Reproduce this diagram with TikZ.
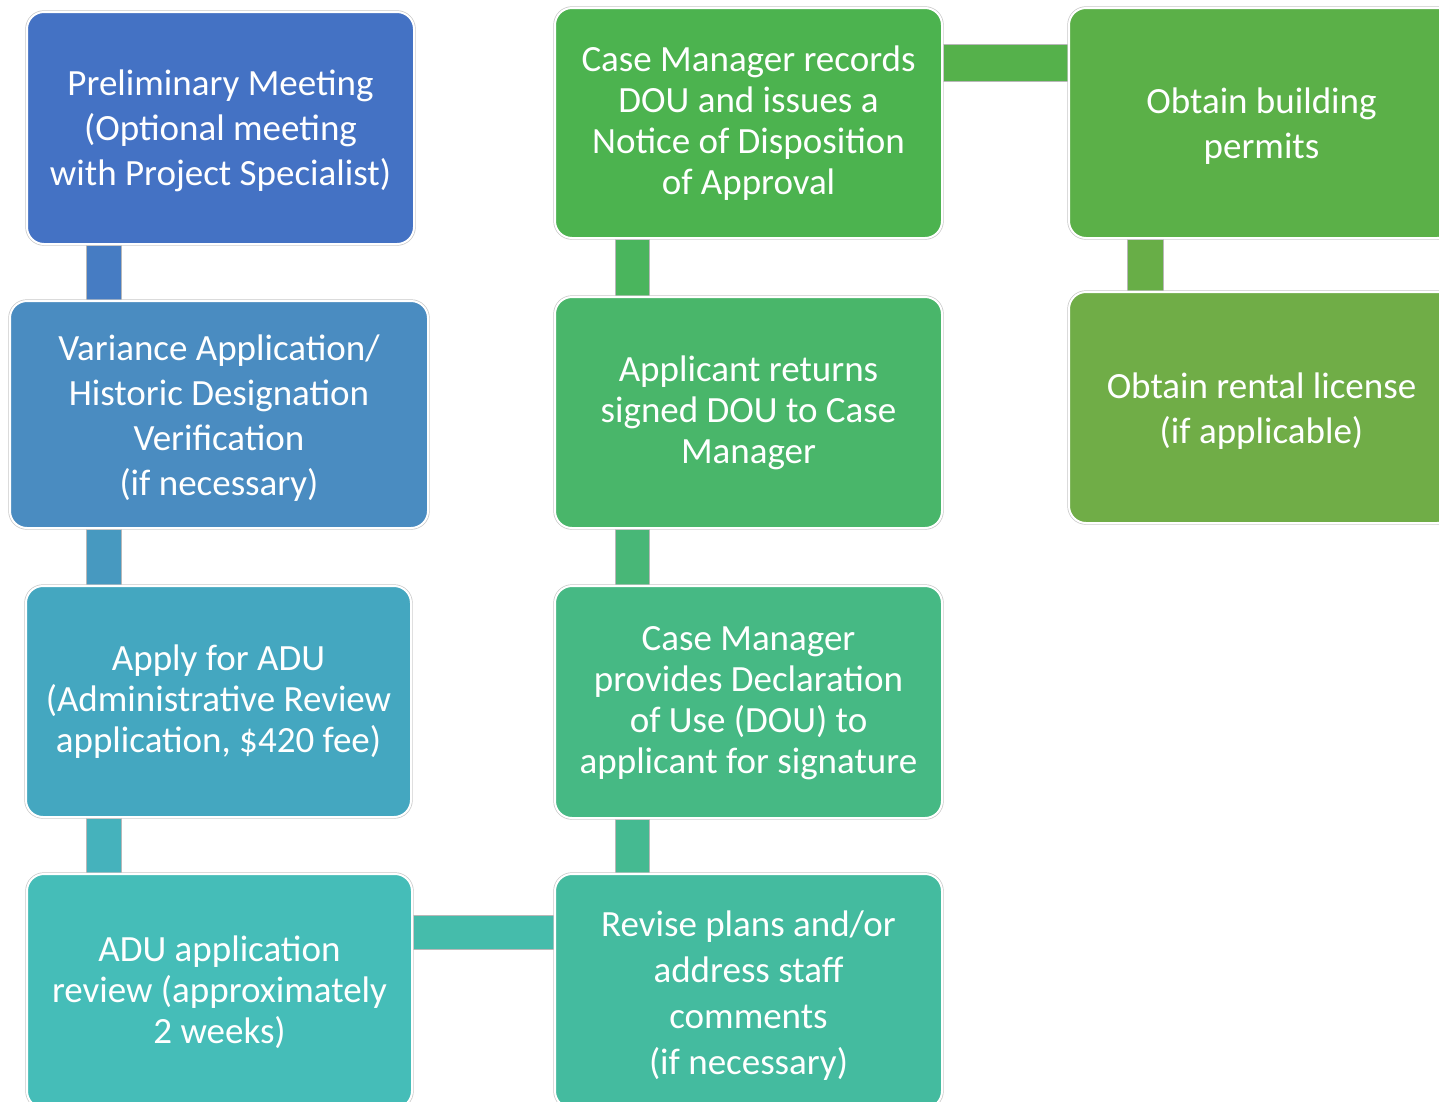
\documentclass[tikz,border=0pt]{standalone}
\usepackage{fontspec}
\setmainfont{Carlito}
\usetikzlibrary{backgrounds}
\definecolor{cA}{HTML}{4472C4}
\definecolor{cB}{HTML}{4A8CC1}
\definecolor{cC}{HTML}{44A7C0}
\definecolor{cD}{HTML}{45BDB8}
\definecolor{cE}{HTML}{44BB9F}
\definecolor{cF}{HTML}{46B984}
\definecolor{cG}{HTML}{49B66A}
\definecolor{cH}{HTML}{4CB34F}
\definecolor{cI}{HTML}{5BB048}
\definecolor{cJ}{HTML}{70AD47}
\tikzset{
  stepbox/.style={rectangle, rounded corners=17pt, inner sep=0pt,
    anchor=north west,
    preaction={draw=black!22, line width=3.4pt},
    draw=white, line width=2pt},
  txt/.style={inner sep=0pt, text=white, align=center, anchor=center},
  lsA/.style={font=\fontsize{37}{45}\selectfont},
  lsB/.style={font=\fontsize{37}{41}\selectfont},
  lsC/.style={font=\fontsize{37}{46}\selectfont},
  conn/.style={draw=black!28, line width=0.6pt}
}
\begin{document}
\begin{tikzpicture}[x=1pt,y=-1pt]
\useasboundingbox (0,0) rectangle (1439,1101);
\clip (0,0) rectangle (1439,1101);
% column 1
\node[stepbox, fill=cA, minimum width=387pt, minimum height=232pt] (b1) at (26,11) {};
\node[txt, lsA, yshift=-3pt] (t1) at (b1.center)
  {Preliminary Meeting\\(Optional meeting\\with Project Specialist)};
\node[stepbox, fill=cB, minimum width=418pt, minimum height=227pt] (b2) at (9,300) {};
\node[txt, lsA, yshift=-4pt] (t2) at (b2.center)
  {Variance Application/\\Historic Designation\\Verification\\(if necessary)};
\node[stepbox, fill=cC, minimum width=385pt, minimum height=231pt] (b3) at (25,585) {};
\node[txt, lsB] (t3) at (b3.center)
  {Apply for ADU\\(Administrative Review\\application, \$420 fee)};
\node[stepbox, fill=cD, minimum width=385pt, minimum height=234pt] (b4) at (26,873) {};
\node[txt, lsB, yshift=-1pt] (t4) at (b4.center)
  {ADU application\\review (approximately\\2 weeks)};
% column 2
\node[stepbox, fill=cE, minimum width=387pt, minimum height=234pt] (b5) at (554,873) {};
\node[txt, lsC, yshift=-4.5pt] (t5) at (b5.center)
  {Revise plans and/or\\address staff\\comments\\(if necessary)};
\node[stepbox, fill=cF, minimum width=387pt, minimum height=232pt] (b6) at (554,585) {};
\node[txt, lsB, yshift=-1pt] (t6) at (b6.center)
  {Case Manager\\provides Declaration\\of Use (DOU) to\\applicant for signature};
\node[stepbox, fill=cG, minimum width=387pt, minimum height=231pt] (b7) at (554,296) {};
\node[txt, lsB] (t7) at (b7.center)
  {Applicant returns\\signed DOU to Case\\Manager};
\node[stepbox, fill=cH, minimum width=387pt, minimum height=230pt] (b8) at (554,7) {};
\node[txt, lsB] (t8) at (b8.center)
  {Case Manager records\\DOU and issues a\\Notice of Disposition\\of Approval};
% column 3
\node[stepbox, fill=cI, minimum width=385pt, minimum height=230pt] (b9) at (1068,7) {};
\node[txt, lsA, yshift=-3pt] (t9) at (b9.center)
  {Obtain building\\permits};
\node[stepbox, fill=cJ, minimum width=385pt, minimum height=231pt] (b10) at (1068,291) {};
\node[txt, lsA, yshift=-4pt] (t10) at (b10.center)
  {Obtain rental license\\(if applicable)};
\begin{scope}[on background layer]
  \draw[conn, fill=cA!60!cB] ([xshift=60pt]b1.south west) rectangle ([xshift=95pt]b1.south west |- b2.north);
  \draw[conn, fill=cB!50!cC] ([xshift=60pt]b1.south west |- b2.south) rectangle ([xshift=95pt]b1.south west |- b3.north);
  \draw[conn, fill=cC!50!cD] ([xshift=60pt]b1.south west |- b3.south) rectangle ([xshift=95pt]b1.south west |- b4.north);
  \draw[conn, fill=cD!50!cE] ([yshift=-42pt]b4.north east) rectangle ([yshift=-76pt]b4.north east -| b5.west);
  \draw[conn, fill=cE!50!cF] ([xshift=61pt]b6.south west) rectangle ([xshift=95pt]b6.south west |- b5.north);
  \draw[conn, fill=cF!50!cG] ([xshift=61pt]b7.south west) rectangle ([xshift=95pt]b7.south west |- b6.north);
  \draw[conn, fill=cG!50!cH] ([xshift=61pt]b8.south west) rectangle ([xshift=95pt]b8.south west |- b7.north);
  \draw[conn, fill=cH!40!cI] ([yshift=-37pt]b8.north east) rectangle ([yshift=-74pt]b8.north east -| b9.west);
  \draw[conn, fill=cI!40!cJ] ([xshift=59pt]b9.south west) rectangle ([xshift=95pt]b9.south west |- b10.north);
\end{scope}
\end{tikzpicture}
\end{document}
